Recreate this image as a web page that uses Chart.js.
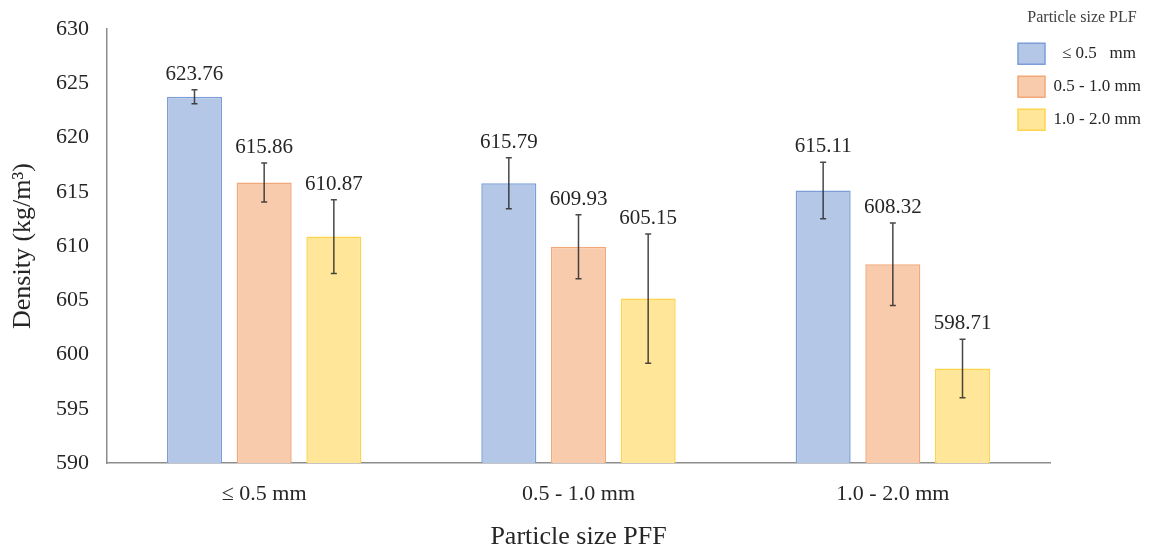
<!DOCTYPE html>
<html>
<head>
<meta charset="utf-8">
<script src="https://cdn.jsdelivr.net/npm/chart.js@4.4.1/dist/chart.umd.min.js"></script>
<style>
  html, body { margin: 0; padding: 0; background: #fff; }
  #wrap { width: 1158px; height: 548px; position: relative; }
</style>
</head>
<body>
<div id="wrap"><canvas id="densityChart"></canvas></div>
<script>
// categories on the x axis (PFF particle size)
const categories = ["\u2264 0.5 mm", "0.5 - 1.0 mm", "1.0 - 2.0 mm"];
// series (PLF particle size)
const seriesNames = ["  \u2264 0.5   mm", "0.5 - 1.0 mm", "1.0 - 2.0 mm"];
const plfUnder05 = [623.76, 615.79, 615.11];
const plf05to10 = [615.86, 609.93, 608.32];
const plf10to20 = [610.87, 605.15, 598.71];
// error bar half-lengths
const errUnder05 = [0.65, 2.35, 2.6];
const err05to10 = [1.8, 2.95, 3.8];
const err10to20 = [3.4, 5.95, 2.7];
// y axis
const yMin = 590;
const yMax = 630;
const yStep = 5;

const serif = "'Liberation Serif', 'Times New Roman', serif";

const errorBars = {
    id: "errorBars",
    afterDatasetsDraw(chart) {
        const ctx = chart.ctx;
        const y = chart.scales.y;
        chart.data.datasets.forEach((ds, i) => {
            const meta = chart.getDatasetMeta(i);
            meta.data.forEach((bar, j) => {
                const v = ds.data[j];
                const e = ds.errors[j];
                const top = y.getPixelForValue(v + e);
                const bot = y.getPixelForValue(v - e);
                ctx.save();
                ctx.strokeStyle = "rgba(40,40,40,0.85)";
                ctx.lineWidth = 1.5;
                ctx.beginPath();
                ctx.moveTo(bar.x, top);
                ctx.lineTo(bar.x, bot);
                ctx.moveTo(bar.x - 3, top);
                ctx.lineTo(bar.x + 3, top);
                ctx.moveTo(bar.x - 3, bot);
                ctx.lineTo(bar.x + 3, bot);
                ctx.stroke();
                // value label above the error bar
                ctx.fillStyle = "#262626";
                ctx.font = "21px " + serif;
                ctx.textAlign = "center";
                ctx.textBaseline = "alphabetic";
                ctx.fillText(v.toFixed(2), bar.x, top - 10);
                ctx.restore();
            });
        });
    }
};

// legend sits partly over the plot, as in the original figure
const legendShift = {
    id: "legendShift",
    afterLayout(chart) {
        const lg = chart.legend;
        lg.left -= 44;
        lg.width = lg.right - lg.left;
        lg.top = 10;
    }
};

new Chart(document.getElementById("densityChart"), {
    type: "bar",
    data: {
        labels: categories,
        datasets: [
            {
                label: seriesNames[0],
                data: plfUnder05,
                errors: errUnder05,
                backgroundColor: "#b4c7e7",
                borderColor: "#7b9ed9",
                borderWidth: 1.5
            },
            {
                label: seriesNames[1],
                data: plf05to10,
                errors: err05to10,
                backgroundColor: "#f8cbad",
                borderColor: "#f2a878",
                borderWidth: 1.5
            },
            {
                label: seriesNames[2],
                data: plf10to20,
                errors: err10to20,
                backgroundColor: "#ffe699",
                borderColor: "#ffd44d",
                borderWidth: 1.5
            }
        ]
    },
    options: {
        responsive: true,
        maintainAspectRatio: false,
        animation: false,
        layout: { padding: { top: 29, right: 0, bottom: 0, left: 0 } },
        datasets: {
            bar: { categoryPercentage: 0.665, barPercentage: 0.79 }
        },
        plugins: {
            tooltip: { enabled: false },
            legend: {
                position: "right",
                align: "start",
                maxWidth: 108,
                title: {
                    display: true,
                    text: "Particle size PLF",
                    color: "#404040",
                    font: { family: serif, size: 16 },
                    padding: { top: 0, bottom: 2 }
                },
                labels: {
                    boxWidth: 27,
                    boxHeight: 21,
                    padding: 12,
                    color: "#262626",
                    font: { family: serif, size: 17 }
                }
            }
        },
        scales: {
            x: {
                grid: { display: false },
                border: { display: true, color: "#8c8c8c", width: 1.5 },
                ticks: {
                    color: "#262626",
                    padding: 10,
                    font: { family: serif, size: 22 }
                },
                title: {
                    display: true,
                    text: "Particle size PFF",
                    color: "#262626",
                    font: { family: serif, size: 26, lineHeight: 0.8 },
                    padding: { top: 10, bottom: 0 }
                },
                afterFit(scale) { scale.height = 85; }
            },
            y: {
                min: yMin,
                max: yMax,
                grid: { display: false },
                border: { display: true, color: "#8c8c8c", width: 1.5 },
                ticks: {
                    stepSize: yStep,
                    color: "#262626",
                    padding: 10,
                    font: { family: serif, size: 22 }
                },
                title: {
                    display: true,
                    text: "Density (kg/m\u00b3)",
                    color: "#262626",
                    font: { family: serif, size: 26, lineHeight: 1 },
                    padding: { top: 10, bottom: 10 }
                },
                afterFit(scale) { scale.width = 107; }
            }
        }
    },
    plugins: [errorBars, legendShift]
});
</script>
</body>
</html>
